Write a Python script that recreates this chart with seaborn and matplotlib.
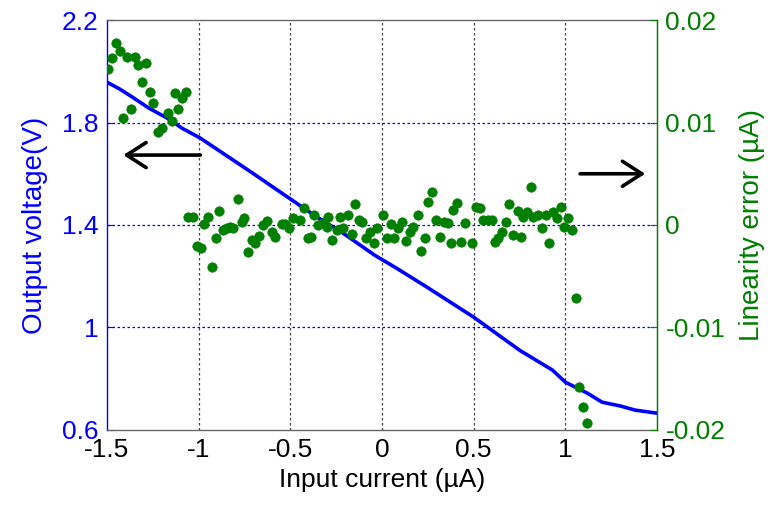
import numpy as np
import pandas as pd
import seaborn as sns
import matplotlib
matplotlib.use("Agg")
import matplotlib.pyplot as plt

# output voltage curve (left axis)
line_x = [-1.5, -1.43, -1.36, -1.27, -1.17, -1.09, -0.99, -0.85, -0.71, -0.58, -0.49, -0.37, -0.22,
          -0.04, 0.08, 0.25, 0.5, 0.75, 0.93, 1.0, 1.12, 1.2, 1.3, 1.38, 1.5]
line_v = [1.958, 1.931, 1.899, 1.856, 1.817, 1.778, 1.739, 1.672, 1.605, 1.541, 1.497, 1.438, 1.372,
          1.282, 1.231, 1.155, 1.04, 0.911, 0.833, 0.786, 0.743, 0.708, 0.693, 0.677, 0.665]

# linearity error points (right axis)
err_x = [-1.494, -1.473, -1.451, -1.429, -1.413, -1.391, -1.369, -1.347, -1.331, -1.309, -1.287, -1.265,
         -1.249, -1.222, -1.200, -1.167, -1.145, -1.129, -1.113, -1.091, -1.069,
         -1.058, -1.031, -1.009, -0.987, -0.971, -0.949, -0.927, -0.905, -0.889, -0.867, -0.845, -0.829,
         -0.813, -0.785, -0.764, -0.753, -0.731, -0.709, -0.693, -0.671, -0.649, -0.627, -0.600, -0.584,
         -0.545, -0.529, -0.507, -0.485, -0.447, -0.425, -0.404, -0.387, -0.371, -0.349, -0.322, -0.300,
         -0.294, -0.273, -0.245, -0.229, -0.213, -0.185, -0.164, -0.147, -0.125, -0.109, -0.087, -0.065,
         -0.044, -0.027, 0.005, 0.027, 0.049, 0.065, 0.087, 0.109, 0.131, 0.153, 0.169, 0.196, 0.213,
         0.235, 0.251, 0.273, 0.295, 0.316, 0.338, 0.360, 0.376, 0.387, 0.409, 0.431, 0.453, 0.491, 0.513,
         0.535, 0.551, 0.578, 0.600, 0.616, 0.633, 0.655, 0.676, 0.693, 0.715, 0.742, 0.758, 0.769, 0.791,
         0.813, 0.824, 0.851, 0.873, 0.895, 0.911, 0.933, 0.955, 0.976, 0.993, 1.015, 1.036,
         1.058, 1.075, 1.097, 1.118]
err_y = [0.0152, 0.0163, 0.0178, 0.0170, 0.0104, 0.0164, 0.0113, 0.0164, 0.0156, 0.0140, 0.0158, 0.0130,
         0.0119, 0.0091, 0.0095, 0.0109, 0.0102, 0.0129, 0.0113, 0.0124, 0.0130,
         0.0008, 0.0008, -0.0021, -0.0022, 0.0001, 0.0008, -0.0041, -0.0013, 0.0014, -0.0005, -0.0003, -0.0002,
         -0.0003, 0.0025, 0.0003, 0.0007, -0.0026, -0.0015, -0.0018, -0.0011, 0.0000, 0.0004, -0.0007, -0.0012,
         0.0001, 0.0001, -0.0003, 0.0007, 0.0005, 0.0017, -0.0013, -0.0012, 0.0010, 0.0000, 0.0002, -0.0002,
         0.0008, -0.0015, -0.0005, 0.0008, -0.0003, 0.0010, -0.0009, 0.0020, 0.0005, 0.0003, -0.0013, -0.0007,
         -0.0018, -0.0003, 0.0010, -0.0013, 0.0001, -0.0013, -0.0003, 0.0003, -0.0016, -0.0007, -0.0002, 0.0010, -0.0025,
         -0.0013, 0.0022, 0.0032, 0.0005, -0.0012, 0.0003, 0.0002, -0.0018, 0.0015, 0.0021, -0.0017, 0.0002, -0.0018, 0.0018,
         0.0017, 0.0005, 0.0005, 0.0005, -0.0017, -0.0013, -0.0007, 0.0003, 0.0020, -0.0010, 0.0014, -0.0012, 0.0008, 0.0013,
         0.0037, 0.0008, 0.0010, -0.0003, 0.0010, -0.0018, 0.0013, 0.0007, 0.0018, -0.0002, 0.0007, -0.0005,
         -0.0071, -0.0158, -0.0178, -0.0193]

x_ticks = [-1.5, -1, -0.5, 0, 0.5, 1, 1.5]
x_tick_labels = ["-1.5", "-1", "-0.5", "0", "0.5", "1", "1.5"]
v_ticks = [0.6, 1.0, 1.4, 1.8, 2.2]
v_tick_labels = ["0.6", "1", "1.4", "1.8", "2.2"]
e_ticks = [-0.02, -0.01, 0, 0.01, 0.02]
e_tick_labels = ["-0.02", "-0.01", "0", "0.01", "0.02"]

BLUE = "#0000ff"
GREEN = "#007f00"

sns.set_style("white")
plt.rcParams["font.family"] = ["Liberation Sans", "DejaVu Sans"]

line_df = pd.DataFrame({"current": line_x, "voltage": line_v})
err_df = pd.DataFrame({"current": err_x, "error": err_y})

fig = plt.figure(figsize=(7.74, 5.16), dpi=100)
ax = fig.add_axes([0.138, 0.167, 0.711, 0.794])

sns.lineplot(data=line_df, x="current", y="voltage", ax=ax, color=BLUE, linewidth=2.6)
ax.set_xlim(-1.5, 1.5)
ax.set_ylim(0.6, 2.2)
ax.set_xticks(x_ticks)
ax.set_xticklabels(x_tick_labels)
ax.set_yticks(v_ticks)
ax.set_yticklabels(v_tick_labels)
ax.set_xlabel("Input current (\u00b5A)", fontsize=19, labelpad=4, color="black")
ax.set_ylabel("Output voltage(V)", fontsize=20, color=BLUE, labelpad=10)
ax.tick_params(axis="x", labelsize=19, direction="in", length=5, color="#333333",
               labelcolor="black", pad=6)
ax.tick_params(axis="y", labelsize=19, direction="in", length=5, colors=BLUE, pad=6)

# grid: vertical black dotted, horizontal blue dotted
for xv in x_ticks[1:-1]:
    ax.axvline(xv, color="#444444", linestyle=(0, (2, 2)), linewidth=0.9, zorder=0)
for yv in v_ticks[1:-1]:
    ax.axhline(yv, color=BLUE, linestyle=(0, (2, 2)), linewidth=0.9, zorder=0)

for side in ["top", "bottom"]:
    ax.spines[side].set_color("#666666")
    ax.spines[side].set_linewidth(1.0)
ax.spines["left"].set_color(BLUE)
ax.spines["left"].set_linewidth(1.0)

ax2 = ax.twinx()
sns.scatterplot(data=err_df, x="current", y="error", ax=ax2, color=GREEN, s=46,
                edgecolor=GREEN, linewidth=0.5)
ax2.set_xlim(-1.5, 1.5)
ax2.set_ylim(-0.02, 0.02)
ax2.set_yticks(e_ticks)
ax2.set_yticklabels(e_tick_labels)
ax2.set_ylabel("Linearity error (\u00b5A)", fontsize=20, color=GREEN, labelpad=10)
ax2.tick_params(axis="y", labelsize=19, direction="in", length=5, colors=GREEN, pad=6)
ax2.spines["right"].set_color(GREEN)
ax2.spines["right"].set_linewidth(1.0)
ax2.spines["left"].set_visible(False)
ax2.spines["top"].set_visible(False)
ax2.spines["bottom"].set_visible(False)

# arrows pointing to the axes
arrow = dict(arrowstyle="->,head_length=0.7,head_width=0.45", lw=2.6, color="black",
             shrinkA=0, shrinkB=0, mutation_scale=20)
ax.annotate("", xy=(-1.41, 1.673), xytext=(-0.99, 1.673), arrowprops=arrow)
ax.annotate("", xy=(1.435, 1.6), xytext=(1.08, 1.6), arrowprops=arrow)

plt.savefig("out.png", dpi=100)
